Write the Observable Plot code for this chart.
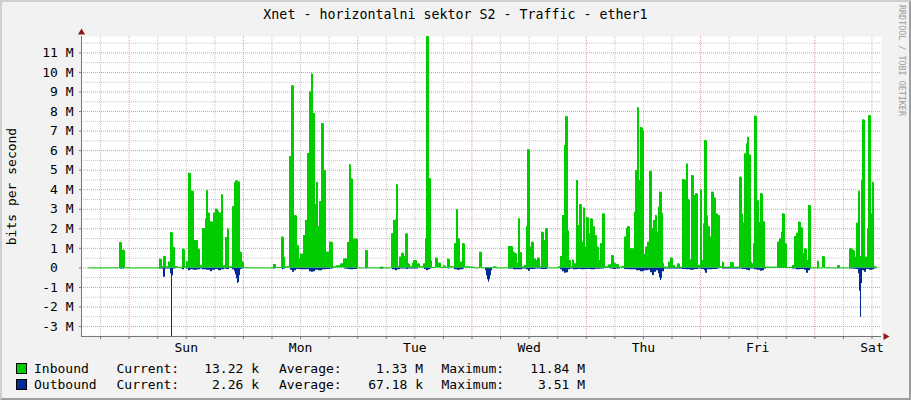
<!DOCTYPE html>
<html>
<head>
<meta charset="utf-8">
<script src="https://cdn.jsdelivr.net/npm/d3@7"></script>
<script src="https://cdn.jsdelivr.net/npm/@observablehq/plot@0.6"></script>
<style>
html, body { margin: 0; padding: 0; background: #f2f2f2; }
#wrap { position: relative; width: 911px; height: 400px; background: #f2f2f2; overflow: hidden; font-family: "DejaVu Sans Mono", monospace; }
#wrap svg { position: absolute; left: 0; top: 0; }
.t { position: absolute; white-space: pre; font-size: 13px; line-height: 13px; color: #000; }
#border { position: absolute; left: 0; top: 0; width: 911px; height: 400px; box-sizing: border-box;
  border-top: 2px solid #cfcfcf; border-left: 2px solid #cfcfcf; border-right: 2px solid #9e9e9e; border-bottom: 2px solid #9e9e9e; pointer-events: none; }
.box { position: absolute; width: 9px; height: 9px; border: 1px solid #000; }
</style>
</head>
<body>
<div id="wrap"></div>
<script>
// ---- Data (RRD rows of 756 s = 0.21 h; values in Mbit/s) ----
const title = "Xnet - horizontalni sektor S2 - Traffic - ether1";
const yLabel = "bits per second";
const watermark = "RRDTOOL / TOBI OETIKER";
const rowHours = 0.21;        // 756 s per row
const firstRowHour = -10;     // hours relative to Sunday 00:00 (Sat 14:00)
const rowCount = 800;
const dayNames = ["Sun", "Mon", "Tue", "Wed", "Thu", "Fri", "Sat"];
const yMin = -3.51, yMax = 11.84;
const yMajorTicks = [-3, -2, -1, 0, 1, 2, 3, 4, 5, 6, 7, 8, 9, 10, 11];

// [row, Mbit/s]
const inbound = [
[7,0],[38,1.3],[40,0.9],[43,0],
[78,0.44],[80,0.05],[82,0.58],[84,0.05],[87,0.3],[88,0.1],[89,1.8],[91,1.05],[93,0.07],[96,0.02],[98,0],
[101,0.95],[103,0.05],[105,0.3],[107,4.84],[109,3.92],[112,1.36],[113,1.4],[116,0.95],[118,0.1],[121,2.0],[124,2.5],[125,3.95],[126,2.8],[128,2.35],[131,1.9],[132,2.8],[134,3.0],[136,2.9],[137,2.8],[140,3.75],[141,0.1],[144,1.55],[146,2.0],[147,0.05],[151,3.13],[153,4.35],[154,4.45],[156,4.4],[158,0.8],[160,0.3],[162,0.02],[164,0],
[192,0.17],[194,0.02],[200,1.57],[202,0.55],[203,0.05],[208,5.7],[210,9.32],[212,2.67],[215,1.14],[217,0.45],[219,0.7],[222,1.65],[224,2.42],[226,5.85],[228,9.0],[230,9.92],[231,7.9],[233,3.24],[235,4.38],[236,2.1],[238,3.4],[240,7.38],[242,4.98],[244,0.8],[248,1.31],[251,0.05],[255,0.1],[259,0.2],[262,0.45],[266,1.3],[268,5.28],[269,4.55],[271,1.47],[276,0],[284,0.89],[286,0],
[299,0.03],[302,0],
[310,1.74],[312,2.42],[314,2.45],[315,4.26],[316,0.05],[318,0.55],[320,0.75],[322,0.58],[324,1.74],[326,0.2],[328,0.05],[331,0.24],[332,0.37],[335,0.2],[338,0.05],[342,0.2],[344,1.48],[345,11.84],[347,4.57],[349,0.37],[350,0.02],[354,0.5],[356,0.24],[359,0.02],[362,0.1],[364,0.02],[366,0.44],[368,0.05],[373,1.23],[375,2.97],[376,1.48],[378,0.29],[381,1.23],[383,0.05],[389,0.03],[393,0],
[398,0.8],[400,0],[412,0.05],[415,0],
[427,1.09],[431,0.8],[433,0.72],[435,0.24],[437,2.52],[438,0.78],[440,0.05],[443,0.12],[445,2.11],[446,6.04],[448,1.06],[450,1.31],[452,0.46],[454,0.38],[456,0.5],[458,0.05],[460,1.82],[462,1.4],[464,2.0],[466,0],
[477,0.05],[479,0.58],[481,2.68],[483,6.26],[484,7.74],[486,1.91],[487,0.38],[489,0.05],[491,0.4],[492,0.2],[495,4.47],[496,2.17],[498,3.24],[500,1.31],[502,3.07],[503,1.06],[505,2.56],[507,1.74],[509,2.5],[511,2.11],[513,1.65],[515,1.06],[517,0.38],[519,1.23],[521,2.76],[523,0.05],[527,0.15],[530,0.63],[532,0.24],[534,0.17],[537,0.03],[541,0.07],[543,1.57],[545,2.0],[546,2.1],[548,0.97],
[553,2.85],[554,4.97],[556,8.2],[557,4.47],[559,7.17],[561,7.03],[562,0.68],[564,1.06],[566,1.31],[568,4.94],[570,2.0],[572,2.42],[574,2.68],[575,1.82],[577,3.1],[578,3.87],[580,2.8],[581,0.24],[582,0.03],[587,0.29],[589,0.5],[591,0.12],[593,0.03],[596,0.2],[598,0.03],
[601,4.52],[603,4.47],[605,5.32],[606,3.48],[608,0.41],[610,4.72],[612,3.7],[614,3.79],[616,0.12],[619,3.99],[620,0.38],[622,2.25],[623,6.51],[625,2.68],[626,2.11],[628,1.57],[630,3.87],[632,3.58],[634,2.76],[636,2.68],[638,0.05],[641,0.29],[642,0.03],[649,0.26],[652,0.03],
[658,4.64],[660,2.76],[661,2.3],[663,5.83],[665,6.34],[666,6.68],[667,5.78],[669,0.3],[670,0.2],[672,1.23],[673,7.76],[675,3.1],[676,3.44],[677,2.33],[679,3.79],[681,2.37],[683,0.03],
[696,1.31],[698,1.48],[700,1.82],[701,2.76],[703,1.23],[705,0.02],
[711,0.12],[713,1.6],[715,1.77],[717,2.34],[719,2.05],[721,0.72],[723,0.97],[725,0.38],[727,3.19],[729,0],
[736,0.34],[737,0],[741,0.58],[743,0],[756,0.12],[758,0],
[768,0.97],[771,0.89],[773,0.55],[775,2.28],[777,3.92],[778,0.58],[780,4.47],[781,7.57],[783,0.38],[784,0.55],[786,2.0],[787,7.79],[789,2.76],[791,4.38],[792,0.05],[795,0]
];

// [row, Mbit/s] (drawn below zero)
const outbound = [
[7,0],[39,0.05],[43,0],[78,0.05],[82,0.48],[84,0.05],[89,0.3],[90,3.51],[91,0.4],[92,0.05],[94,0.02],[96,0],
[101,0.1],[103,0.03],[105,0.05],[107,0.15],[109,0.1],[112,0.12],[116,0.1],[119,0.05],[121,0.1],[125,0.12],[129,0.2],[131,0.12],[134,0.08],[137,0.15],[140,0.1],[143,0.05],[145,0.08],[148,0.03],[151,0.1],[153,0.2],[154,0.35],[155,0.55],[156,0.8],[157,0.75],[158,0.4],[159,0.1],[160,0.05],[162,0],
[192,0.05],[194,0],[201,0.1],[202,0.05],[204,0],[209,0.12],[211,0.22],[213,0.15],[215,0.08],[219,0.1],[224,0.1],[228,0.2],[230,0.22],[232,0.2],[234,0.12],[237,0.15],[241,0.1],[245,0.08],[249,0.05],[252,0],[263,0.05],[266,0.08],[269,0.1],[272,0.08],[276,0],[285,0.05],[286,0],
[299,0.05],[302,0],
[311,0.1],[314,0.15],[316,0.1],[319,0.05],[325,0.08],[327,0.05],[333,0.05],[337,0],[343,0.08],[345,0.15],[347,0.1],[349,0.05],[350,0],[367,0.05],[368,0],[373,0.1],[376,0.12],[379,0.1],[382,0.05],[383,0],
[404,0.15],[405,0.4],[406,0.6],[407,0.74],[408,0.6],[409,0.4],[410,0.15],[411,0],
[427,0.05],[432,0.1],[437,0.1],[441,0.05],[445,0.1],[447,0.17],[449,0.08],[454,0.05],[460,0.08],[465,0.08],[466,0],
[479,0.1],[481,0.2],[483,0.27],[485,0.25],[487,0.1],[489,0.05],[492,0.1],[496,0.08],[500,0.1],[504,0.08],[509,0.1],[514,0.07],[519,0.05],[523,0.03],[529,0.05],[532,0.08],[535,0.05],[539,0.02],[543,0.08],[547,0.1],[551,0.1],[555,0.15],[559,0.2],[563,0.15],[567,0.12],[569,0.25],[571,0.39],[573,0.22],[575,0.15],[577,0.3],[578,0.5],[579,0.65],[580,0.55],[581,0.2],[583,0.05],[589,0.05],[597,0.05],[601,0.08],[605,0.1],[609,0.12],[613,0.08],[617,0.05],[620,0.08],[623,0.15],[624,0.27],[626,0.1],[631,0.08],[636,0.05],[638,0.02],[641,0.05],[649,0.05],[657,0.05],[661,0.08],[665,0.12],[667,0.14],[669,0.05],[673,0.1],[676,0.12],[679,0.17],[681,0.15],[683,0.05],[685,0],
[696,0.03],[705,0],[711,0.05],[715,0.1],[719,0.08],[723,0.12],[725,0.27],[727,0.15],[729,0.05],[730,0],[736,0.05],[737,0],[757,0.05],[758,0],
[768,0.05],[772,0.07],[775,0.08],[777,0.3],[778,1.2],[779,2.52],[780,0.8],[781,0.15],[783,0.22],[785,0.08],[788,0.12],[791,0.1],[793,0.05],[794,0]
];

// Legend
const seriesNames = ["Inbound", "Outbound"];
const seriesColors = ["#00cc00", "#002a97"];
const currentVals = ["13.22 k", "2.26 k"];
const averageVals = ["1.33 M", "67.18 k"];
const maximumVals = ["11.84 M", "3.51 M"];

// ---- Build ----
const hourOf = r => firstRowHour + r * rowHours;
const xStart = firstRowHour, xEnd = firstRowHour + rowCount * rowHours;
const inData = inbound.map(([r, v]) => ({h: hourOf(r), v}));
const outData = outbound.map(([r, v]) => ({h: hourOf(r), v: -v}));

const majorX = d3.range(0, xEnd, 24);
const minorX = d3.range(-6, xEnd, 6).filter(h => h % 24 !== 0);
const dayNoon = dayNames.map((_, i) => 12 + 24 * i);
const minorY = d3.range(-3.5, yMax, 1);

const gridGrey = "#c4c4c4", gridRed = "#e49a9a", axisGrey = "#777";

const chart = Plot.plot({
  width: 911, height: 400,
  marginLeft: 81, marginRight: 30, marginTop: 36, marginBottom: 64,
  x: {type: "linear", domain: [xStart, xEnd]},
  y: {domain: [yMin, yMax]},
  style: {background: "transparent", fontFamily: "DejaVu Sans Mono", fontSize: "13px", overflow: "visible"},
  marks: [
    Plot.frame({fill: "white", stroke: "none"}),
    Plot.ruleY(minorY, {stroke: gridGrey, strokeDasharray: "1,1"}),
    Plot.ruleX(minorX, {stroke: gridGrey, strokeDasharray: "1,1"}),
    Plot.ruleY(yMajorTicks, {stroke: gridRed, strokeDasharray: "1,1"}),
    Plot.ruleX(majorX, {stroke: gridRed, strokeDasharray: "1,1"}),
    Plot.areaY(outData, {x: "h", y: "v", curve: "step-after", fill: seriesColors[1]}),
    Plot.areaY(inData, {x: "h", y: "v", curve: "step-after", fill: seriesColors[0]}),
    Plot.lineY(inData, {x: "h", y: "v", curve: "step-after", stroke: seriesColors[0], strokeWidth: 1}),
    Plot.ruleY([yMin], {stroke: axisGrey}),
    Plot.ruleX([xStart], {stroke: axisGrey}),
    Plot.axisY({ticks: yMajorTicks, tickSize: 2, tickPadding: 6, stroke: axisGrey, fill: "black",
      tickFormat: d => d === 0 ? "0\u00a0\u00a0" : `${d} M`, label: null}),
    Plot.axisX({ticks: minorX.concat(majorX), tickSize: 3, tickPadding: 0, stroke: axisGrey,
      tickFormat: () => "", label: null}),
    Plot.axisX({ticks: dayNoon, tickSize: 0, tickPadding: 6, fill: "black",
      tickFormat: d => dayNames[dayNoon.indexOf(d)], label: null}),
    Plot.dot([[xStart, yMax]], {x: d => d[0], y: d => d[1], symbol: "triangle", r: 2.6, fill: "#8b1a1a", stroke: "none", dy: -4}),
    Plot.dot([[xEnd, yMin]], {x: d => d[0], y: d => d[1], symbol: "triangle", r: 2.6, fill: "#8b1a1a", stroke: "none", rotate: 90, dx: 4})
  ]
});

const wrap = document.getElementById("wrap");
wrap.appendChild(chart);

function addText(txt, css) {
  const d = document.createElement("div");
  d.className = "t";
  d.textContent = txt;
  Object.assign(d.style, css);
  wrap.appendChild(d);
  return d;
}

// Title
addText(title, {left: "0px", top: "8px", width: "911px", textAlign: "center", fontSize: "13.3px", lineHeight: "13.3px"});
// Y label
addText(yLabel, {left: "-89.5px", top: "179.5px", width: "200px", textAlign: "center", transform: "rotate(-90deg)"});
// Watermark
addText(watermark, {left: "897px", top: "5px", fontSize: "8.4px", lineHeight: "9px", color: "#9a9a9a", writingMode: "vertical-rl"});

// Legend
seriesNames.forEach((name, i) => {
  const top = 362.3 + i * 16;
  const b = document.createElement("div");
  b.className = "box";
  Object.assign(b.style, {left: "16px", top: (top + 1) + "px", background: seriesColors[i]});
  wrap.appendChild(b);
  addText(name, {left: "34px", top: top + "px"});
  addText("Current:", {left: "116.5px", top: top + "px"});
  addText(currentVals[i], {right: (911 - 259) + "px", top: top + "px"});
  addText("Average:", {left: "279px", top: top + "px"});
  addText(averageVals[i], {right: (911 - 423) + "px", top: top + "px"});
  addText("Maximum:", {left: "441.5px", top: top + "px"});
  addText(maximumVals[i], {right: (911 - 585) + "px", top: top + "px"});
});

const border = document.createElement("div");
border.id = "border";
wrap.appendChild(border);
</script>
</body>
</html>
